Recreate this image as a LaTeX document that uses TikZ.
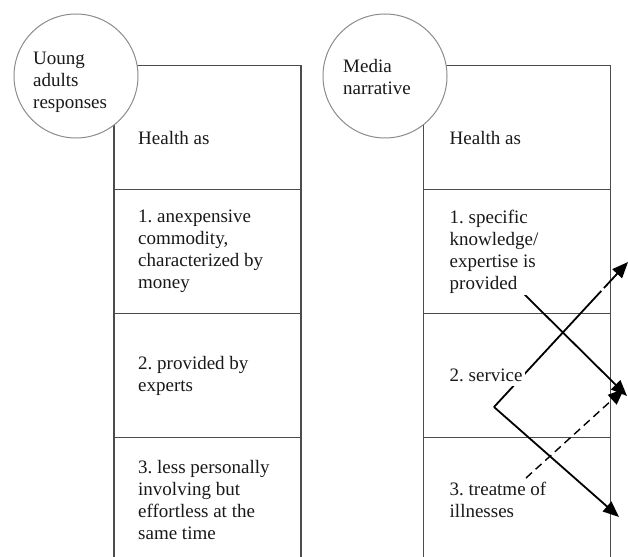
\documentclass[tikz,border=0pt]{standalone}
\usepackage{fontspec}
\setmainfont{Liberation Serif}
\usetikzlibrary{positioning,arrows.meta}
\definecolor{boxline}{gray}{0.3}
\definecolor{ringline}{gray}{0.55}
\definecolor{ink}{gray}{0.1}
\frenchspacing
\tikzset{
  cell/.style={draw=boxline, line width=1.2pt, minimum width=187pt, minimum height=124pt, outer sep=0pt, inner sep=0pt},
  said/.style={align=left, anchor=west, fill=white, inner sep=2pt, text=ink, font=\fontsize{19}{22}\selectfont},
  topic/.style={circle, draw=ringline, fill=white, line width=1pt, minimum size=124pt, inner sep=0pt},
  link/.style={line width=1.8pt, -{Triangle[length=16pt,width=13pt]}},
}

\begin{document}
\begin{tikzpicture}[x=1pt, y=-1pt]
\useasboundingbox (0,0) rectangle (628,556);

%columns:
\node[cell] (lh) at (207.5,127.5) {};
\node[cell, below=0pt of lh] (l1) {};
\node[cell, below=0pt of l1] (l2) {};
\node[cell, below=0pt of l2] (l3) {};
\node[cell] (rh) at (517,127.5) {};
\node[cell, below=0pt of rh] (r1) {};
\node[cell, below=0pt of r1] (r2) {};
\node[cell, below=0pt of r2] (r3) {};

%circles on the corners:
\node[topic] (lc) at (76,76) {};
\node[topic] (rc) at (385,76) {};
\node[said, fill=none] (lct) at ([xshift=-45pt, yshift=-6pt]lc.center) {Uoung\\adults\\responses};
\node[said, fill=none] (rct) at ([xshift=-44pt, yshift=-1pt]rc.center) {Media\\narrative};

%arrows:
\coordinate (apex) at (494,407);
\coordinate (upTip) at (628,262);
\coordinate (downTip) at (619,517);
\coordinate (fromKnow) at (523,293);
\coordinate (knowTip) at (627,396);
\coordinate (fromTreat) at (526,478);
\coordinate (treatTip) at (624,389);
\draw[link] (fromKnow) -- (knowTip);
\draw[link, dash pattern=on 158pt off 4pt on 80pt] (apex) -- (upTip);
\draw[link] (apex) -- (downTip);
\draw[link, line width=1.4pt, dash pattern=on 8pt off 5pt] (fromTreat) -- (treatTip);

%texts:
\node[said, anchor=base west] (lht) at ([xshift=22pt, yshift=-79.5pt]lh.north west) {Health as};
\node[said] (lt1) at ([xshift=22pt]l1.west) {1. anexpensive\\commodity,\\characterized by\\money};
\node[said] (lt2) at ([xshift=22pt]l2.west) {2. provided by\\experts};
\node[said] (lt3) at ([xshift=22pt]l3.west) {3. less personally\\involving but\\effortless at the\\same time};
\node[said, anchor=base west] (rht) at ([xshift=24pt, yshift=-79.5pt]rh.north west) {Health as};
\node[said] (rt1) at ([xshift=24pt]r1.west) {1. specific\\knowledge/\\expertise is\\provided};
\node[said, inner ysep=4pt] (rt2) at ([xshift=24pt]r2.west) {2. service};
\node[said] (rt3) at ([xshift=24pt]r3.west) {3. treatme of\\illnesses};
\end{tikzpicture}
\end{document}
